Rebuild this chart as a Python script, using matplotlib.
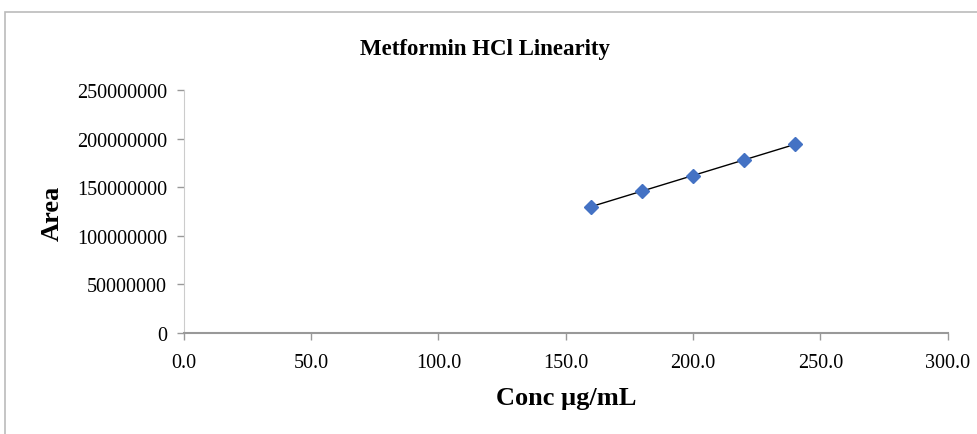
import matplotlib.pyplot as plt
import numpy as np
from matplotlib.patches import Rectangle

# linearity data
conc = [160.0, 180.0, 200.0, 220.0, 240.0]
area = [130000000, 146000000, 162000000, 178000000, 194000000]
xticks = [0, 50, 100, 150, 200, 250, 300]
yticks = [0, 50000000, 100000000, 150000000, 200000000, 250000000]

plt.rcParams['font.family'] = ['Liberation Serif', 'DejaVu Serif']

fig = plt.figure(figsize=(9.77, 4.35), dpi=100)
ax = fig.add_axes([0.188, 0.232, 0.782, 0.559])

# linear trendline
slope, intercept = np.polyfit(conc, area, 1)
xfit = np.array([min(conc), max(conc)])
ax.plot(xfit, slope * xfit + intercept, color='black', lw=1.0, zorder=2)
ax.plot(conc, area, linestyle='none', marker='D', markersize=7.5,
        color='#4472C4', zorder=3)

ax.set_xlim(0, 300)
ax.set_ylim(0, 250000000)
ax.set_xticks(xticks)
ax.set_xticklabels([f"{v:.1f}" for v in xticks])
ax.set_yticks(yticks)
ax.set_yticklabels([str(v) for v in yticks])
ax.tick_params(axis='both', labelsize=14.5, colors='#999999', labelcolor='black',
               length=5, width=1)
ax.tick_params(axis='x', pad=9)
ax.tick_params(axis='y', pad=7)

for s in ['top', 'right']:
    ax.spines[s].set_visible(False)
ax.spines['bottom'].set_color('#999999')
ax.spines['bottom'].set_linewidth(1.5)
ax.spines['left'].set_color('#cccccc')
ax.spines['left'].set_linewidth(0.8)

fig.text(0.496, 0.887, "Metformin HCl Linearity", ha='center', va='center',
         fontsize=16.5, fontweight='bold')
fig.text(0.58, 0.083, "Conc µg/mL", ha='center', va='center',
         fontsize=19, fontweight='bold')
fig.text(0.053, 0.51, "Area", ha='center', va='center', rotation=90,
         fontsize=19, fontweight='bold')

# chart area border
fig.patches.append(Rectangle((0.005, -0.1), 1.1, 1.07, transform=fig.transFigure,
                             fill=False, edgecolor='#bbbbbb', lw=1.2))

fig.savefig("out.png", dpi=100)
